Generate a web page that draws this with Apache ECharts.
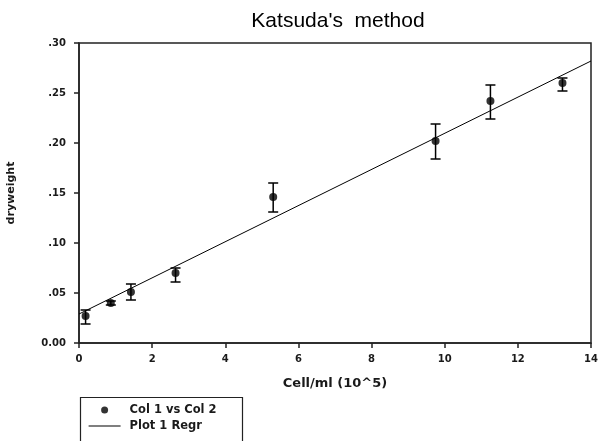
<!DOCTYPE html>
<html>
<head>
<meta charset="utf-8">
<script src="https://cdn.jsdelivr.net/npm/echarts@6/dist/echarts.min.js"></script>
<style>
  html, body { margin: 0; padding: 0; background: #fff; }
  #chart { width: 598px; height: 441px; }
</style>
</head>
<body>
<div id="chart"></div>
<script>
// Measurements: cell concentration (x10^5 / ml) against dry weight
const cellCount = [0.18, 0.87, 1.42, 2.64, 5.31, 9.75, 11.25, 13.22];
const dryWeight = [0.027, 0.040, 0.051, 0.070, 0.146, 0.202, 0.242, 0.260];
const errLow    = [0.008, 0.002, 0.008, 0.009, 0.015, 0.018, 0.018, 0.008];
const errHigh   = [0.006, 0.002, 0.008, 0.005, 0.014, 0.017, 0.016, 0.005];

// Fitted regression line endpoints
const regrX = [0, 14];
const regrY = [0.029, 0.282];

const xTicks = [0, 2, 4, 6, 8, 10, 12, 14];
const yTickLabels = ['0.00', '.05', '.10', '.15', '.20', '.25', '.30'];

const titleFont = '"Liberation Sans", Arial, sans-serif';
const axisFont = '"DejaVu Sans", Verdana, sans-serif';
const ink = '#1a1a1a';

const points = cellCount.map((x, i) => [x, dryWeight[i]]);
const bars = cellCount.map((x, i) => [x, dryWeight[i] - errLow[i], dryWeight[i] + errHigh[i]]);
const regr = regrX.map((x, i) => [x, regrY[i]]);

const chart = echarts.init(document.getElementById('chart'));
chart.setOption({
  animation: false,
  backgroundColor: '#fff',
  title: {
    text: "Katsuda's  method",
    left: 333, top: 6, textAlign: 'center',
    textStyle: { fontFamily: titleFont, fontSize: 21, fontWeight: 'normal', color: '#000' }
  },
  grid: {
    left: 79, right: 7, top: 43, bottom: 98,
    outerBoundsMode: 'none', containLabel: false,
    show: true, borderColor: '#222', borderWidth: 1.5, backgroundColor: 'transparent'
  },
  xAxis: {
    type: 'value', min: 0, max: 14, interval: 2,
    name: 'Cell/ml (10^5)', nameLocation: 'middle', nameGap: 34,
    nameTextStyle: { fontFamily: axisFont, fontSize: 13, fontWeight: 'bold', color: ink },
    axisLine: { show: true, lineStyle: { color: '#222', width: 1.5 } },
    axisTick: { show: true, length: 5, inside: false, lineStyle: { color: '#222', width: 1.5 } },
    axisLabel: {
      fontFamily: axisFont, fontSize: 10, fontWeight: 'bold', color: ink, margin: 11,
      formatter: v => String(xTicks[Math.round(v / 2)])
    },
    splitLine: { show: false }
  },
  yAxis: {
    type: 'value', min: 0, max: 0.30, interval: 0.05,
    name: 'dryweight', nameLocation: 'middle', nameGap: 62,
    nameTextStyle: { fontFamily: axisFont, fontSize: 11, fontWeight: 'bold', color: ink },
    axisLine: { show: true, lineStyle: { color: '#222', width: 1.5 } },
    axisTick: { show: true, length: 5, inside: false, lineStyle: { color: '#222', width: 1.5 } },
    axisLabel: {
      fontFamily: axisFont, fontSize: 10, fontWeight: 'bold', color: ink, margin: 13,
      formatter: v => yTickLabels[Math.round(v / 0.05)]
    },
    splitLine: { show: false }
  },
  legend: {
    orient: 'vertical', left: 88, top: 404, padding: 0,
    itemWidth: 32, itemHeight: 7, itemGap: 4,
    textStyle: { fontFamily: axisFont, fontSize: 11.5, fontWeight: 'bold', color: ink, padding: [0, 0, 0, 4] },
    data: [
      { name: 'Col 1 vs Col 2', icon: 'circle', itemStyle: { color: '#000' } },
      { name: 'Plot 1 Regr', itemStyle: { opacity: 0 }, lineStyle: { color: '#000', width: 1.2 } }
    ]
  },
  graphic: [{
    type: 'rect', left: 78, top: 395,
    shape: { width: 162, height: 60 },
    style: { fill: 'none', stroke: '#222', lineWidth: 1.2 }
  }],
  series: [
    {
      name: 'Plot 1 Regr', type: 'line', data: regr,
      symbol: 'none', itemStyle: { color: '#000' },
      lineStyle: { color: '#000', width: 1 }, z: 2
    },
    {
      name: 'errors', type: 'custom', data: bars, z: 3,
      renderItem: (params, api) => {
        const x = api.value(0);
        const lo = api.coord([x, api.value(1)]);
        const hi = api.coord([x, api.value(2)]);
        const w = 5;
        const st = { stroke: '#000', lineWidth: 1.5 };
        return {
          type: 'group',
          children: [
            { type: 'line', shape: { x1: lo[0], y1: lo[1], x2: hi[0], y2: hi[1] }, style: st },
            { type: 'line', shape: { x1: lo[0] - w, y1: lo[1], x2: lo[0] + w, y2: lo[1] }, style: st },
            { type: 'line', shape: { x1: hi[0] - w, y1: hi[1], x2: hi[0] + w, y2: hi[1] }, style: st }
          ]
        };
      }
    },
    {
      name: 'Col 1 vs Col 2', type: 'scatter', data: points,
      symbol: 'circle', symbolSize: 8,
      itemStyle: { color: '#000' }, z: 4
    }
  ]
});
</script>
</body>
</html>
